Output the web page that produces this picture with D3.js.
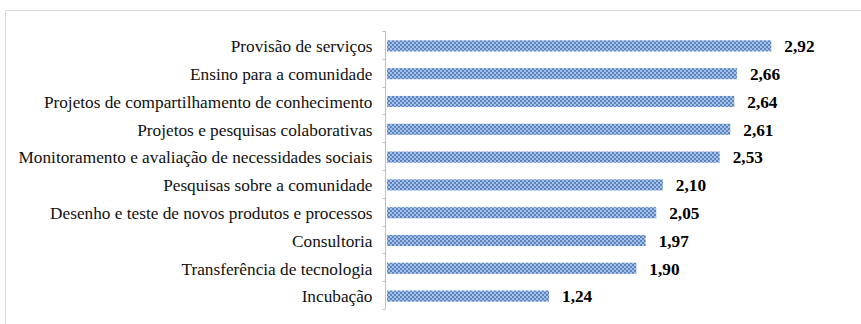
<!DOCTYPE html>
<html>
<head>
<meta charset="utf-8">
<script src="https://cdn.jsdelivr.net/npm/d3@7"></script>
<style>
  html, body { margin: 0; padding: 0; background: #fff; }
  svg { display: block; }
</style>
</head>
<body>
<svg id="chart" width="861" height="324"></svg>
<script>
// Activities and their mean scores (top to bottom)
const categories = [
  "Provisão de serviços",
  "Ensino para a comunidade",
  "Projetos de compartilhamento de conhecimento",
  "Projetos e pesquisas colaborativas",
  "Monitoramento e avaliação de necessidades sociais",
  "Pesquisas sobre a comunidade",
  "Desenho e teste de novos produtos e processos",
  "Consultoria",
  "Transferência de tecnologia",
  "Incubação"
];
const values = [2.92, 2.66, 2.64, 2.61, 2.53, 2.10, 2.05, 1.97, 1.90, 1.24];
const valueLabels = ["2,92", "2,66", "2,64", "2,61", "2,53", "2,10", "2,05", "1,97", "1,90", "1,24"];

const svg = d3.select("#chart");
const W = 861, H = 324;
const FONT = "Liberation Serif";
const FONT_SIZE = 17.25;

// Outer frame (opens past the right and bottom edges)
svg.append("rect")
  .attr("x", 5.5).attr("y", 10.5)
  .attr("width", W + 10).attr("height", H + 10)
  .attr("fill", "#fff")
  .attr("stroke", "#d9d9d9")
  .attr("stroke-width", 1);

// Fine checkered blue fill for the bars
const defs = svg.append("defs");
const pat = defs.append("pattern")
  .attr("id", "hatch")
  .attr("patternUnits", "userSpaceOnUse")
  .attr("width", 4).attr("height", 4);
pat.append("rect").attr("width", 4).attr("height", 4).attr("fill", "#a9c0e2");
pat.append("rect").attr("x", 0).attr("y", 0).attr("width", 2).attr("height", 2).attr("fill", "#5885c4");
pat.append("rect").attr("x", 2).attr("y", 2).attr("width", 2).attr("height", 2).attr("fill", "#5885c4");

const x0 = 385;
const x = d3.scaleLinear().domain([0, 3]).range([x0, x0 + 3 * 132.3]);
const y = d3.scaleBand().domain(categories).range([32, 310]).paddingInner(0.6).paddingOuter(0.3);

// Category axis
const yAxis = d3.axisLeft(y).tickSize(0).tickPadding(13);
const gAxis = svg.append("g")
  .attr("transform", `translate(${x0 + 0.5},0)`)
  .call(yAxis)
  .attr("font-family", FONT)
  .attr("font-size", FONT_SIZE);
gAxis.select(".domain").attr("stroke", "#bfbfbf").attr("d", `M0,31V309`);
gAxis.selectAll(".tick text")
  .attr("font-family", FONT)
  .attr("font-size", FONT_SIZE)
  .attr("dy", "0.36em")
  .attr("fill", "#111");

// Tick marks at the band boundaries
const bounds = d3.range(categories.length + 1).map(i => 31 + i * (278 / categories.length));
svg.append("g").selectAll("line").data(bounds).join("line")
  .attr("x1", x0 - 2.5).attr("x2", x0 + 0.5)
  .attr("y1", d => Math.round(d) + 0.5).attr("y2", d => Math.round(d) + 0.5)
  .attr("stroke", "#bfbfbf");

// Bars
svg.append("g").selectAll("rect").data(values).join("rect")
  .attr("x", x(0) + 2)
  .attr("y", (d, i) => y(categories[i]))
  .attr("width", d => x(d) - x(0) - 2)
  .attr("height", y.bandwidth())
  .attr("fill", "url(#hatch)");

// Value labels
svg.append("g")
  .attr("font-family", FONT)
  .attr("font-size", FONT_SIZE)
  .attr("font-weight", "bold")
  .selectAll("text").data(values).join("text")
  .attr("x", d => x(d) + 13)
  .attr("y", (d, i) => y(categories[i]) + y.bandwidth() / 2)
  .attr("dy", "0.36em")
  .attr("fill", "#000")
  .text((d, i) => valueLabels[i]);
</script>
</body>
</html>
